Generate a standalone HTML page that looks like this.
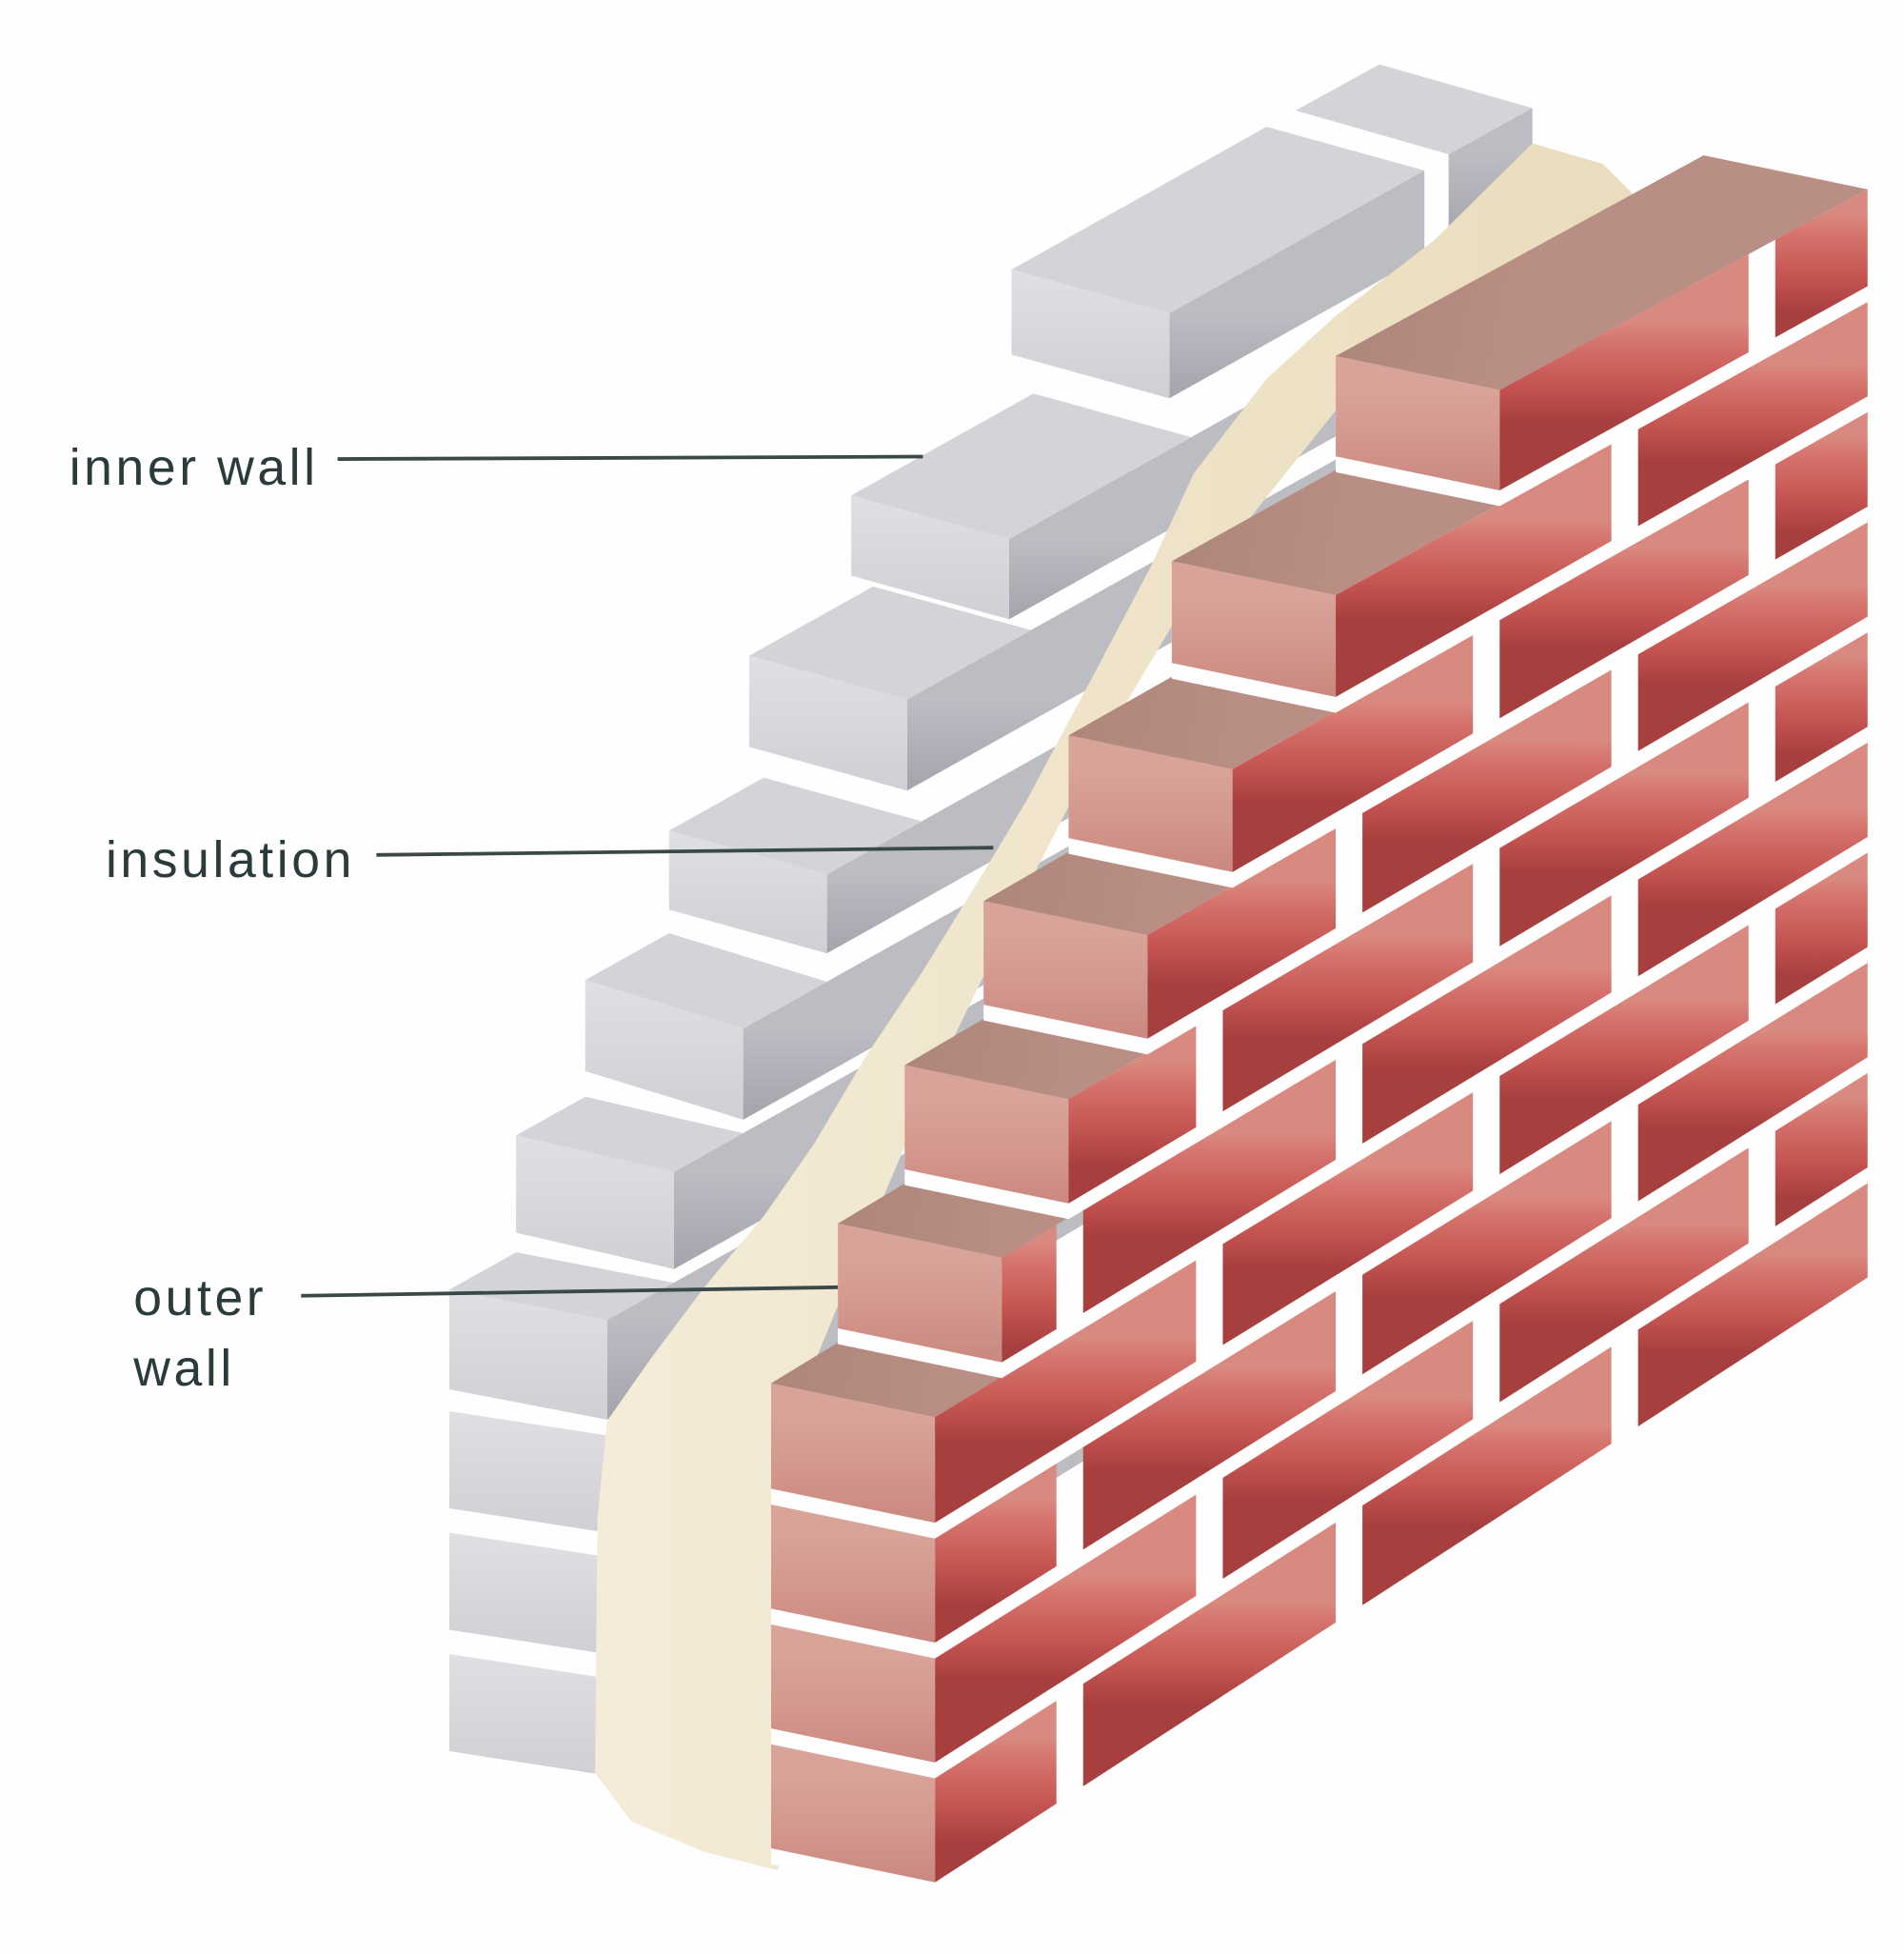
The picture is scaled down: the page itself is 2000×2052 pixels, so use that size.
<!DOCTYPE html>
<html>
<head>
<meta charset="utf-8">
<style>
html,body{margin:0;padding:0;background:#fefefe;}
svg{display:block;}
text{font-family:"Liberation Sans",Arial,sans-serif;fill:#2b3b3b;font-size:42px;letter-spacing:2.8px;}
</style>
</head>
<body>
<svg id="s" xmlns="http://www.w3.org/2000/svg" width="2000" height="2052" viewBox="0 0 1568 1609" preserveAspectRatio="none">
<defs id="defs">
<linearGradient id="ins" x1="0" y1="0" x2="1" y2="0">
<stop offset="0" stop-color="#f4ecd9"/>
<stop offset="0.5" stop-color="#efe4c9"/>
<stop offset="1" stop-color="#eadcbd"/>
</linearGradient>
</defs>
<rect width="1568" height="1609" fill="#fefefe"/>
<g id="grey"></g>
<polygon id="insul" fill="url(#ins)" points="1262,118 1181,198 1100,260 1043,312 983,390 947,468 893,570 845,660 809,720 761,798 713,870 671,941 630,1000 580,1060 535,1120 500,1170 492,1250 490,1460 520,1500 580,1525 640,1540 660,1500 655,1160 710,1027 765,897 830,762 900,625 985,482 1120,313 1200,255 1300,195 1345,160 1320,135"/>
<g id="red"></g>
<g id="labels">
<line x1="278" y1="378" x2="760" y2="376" stroke="#3a4848" stroke-width="3"/>
<line x1="310" y1="704" x2="818" y2="698" stroke="#3a4848" stroke-width="3"/>
<line x1="248" y1="1067" x2="690" y2="1060" stroke="#3a4848" stroke-width="3"/>
<text x="57" y="399">inner wall</text>
<text x="87" y="722">insulation</text>
<text x="110" y="1083">outer</text>
<text x="110" y="1141">wall</text>
</g>
</svg>
<script>
(function(){
var NS='http://www.w3.org/2000/svg';
var defs=document.getElementById('defs');
var G=document.getElementById('grey'), R=document.getElementById('red');
var gid=0;
function poly(g,pts,fill){var p=document.createElementNS(NS,'polygon');p.setAttribute('points',pts.map(function(a){return a[0].toFixed(1)+','+a[1].toFixed(1);}).join(' '));p.setAttribute('fill',fill);g.appendChild(p);return p;}
function grad(x1,y1,x2,y2,stops){var lg=document.createElementNS(NS,'linearGradient');var id='gg'+(gid++);lg.setAttribute('id',id);lg.setAttribute('gradientUnits','userSpaceOnUse');lg.setAttribute('x1',x1);lg.setAttribute('y1',y1);lg.setAttribute('x2',x2);lg.setAttribute('y2',y2);stops.forEach(function(s){var st=document.createElementNS(NS,'stop');st.setAttribute('offset',s[0]);st.setAttribute('stop-color',s[1]);lg.appendChild(st);});defs.appendChild(lg);return 'url(#'+id+')';}

var s=-0.56, W=130;
var gc=[
 {xe:370,y:1362,H:80,r:20,dx:0,L:400},
 {xe:370,y:1262,H:80,r:20,dx:0,L:400},
 {xe:370,y:1162,H:80,r:20,dx:0,L:400},
 {xe:370,y:1062,H:82,r:25,dx:55,L:400},
 {xe:425,y:935,H:80,r:30,dx:57,L:400},
 {xe:482,y:807,H:75,r:40,dx:69,L:400},
 {xe:551,y:684,H:65,r:36,dx:78,L:400},
 {xe:617,y:540,H:75,r:36,dx:102,L:400},
 {xe:701,y:408,H:66,r:36,dx:150,L:400},
 {xe:833,y:222,H:70,r:36,dx:210,L:210}
];
var GL=[[0,'#bcbcc3'],[1,'#a4a4ac']];
gc.forEach(function(c){
 var xf=c.xe+W, yt=c.y+c.r;
 poly(G,[[xf,yt],[xf+c.L,yt+s*c.L],[xf+c.L,yt+c.H+s*c.L],[xf,yt+c.H]],grad(xf,yt,xf,yt+c.H,GL));
 if(c.dx>0){poly(G,[[c.xe,c.y],[xf,yt],[xf+c.dx,yt+s*c.dx],[c.xe+c.dx,c.y+s*c.dx]],'#d3d3d8');}
 poly(G,[[c.xe,c.y],[xf,yt],[xf,yt+c.H],[c.xe,c.y+c.H]],grad(xf,c.y,xf,yt+c.H,[[0,'#e0e0e4'],[1,'#cfcfd4']]));
});
poly(G,[[1067,91],[1193,127],[1262,89],[1136,53]],'#d3d3d8');
poly(G,[[1193,127],[1262,89],[1262,159],[1193,197]],grad(1193,127,1193,197,GL));

function Y(t,x){var yl=1550-98.7*t, yr=1052-90.7*t; return yl+(yr-yl)*(x-770)/768;}
var XR=1538, RW=135, RR=28, TH=0.88;
var xes=[635,635,635,635,690,745,810,880,965,1100];
var jEven=[870,1100,1327], jOdd=[985,1213,1440], JW=22;
var LS=[[0,'#d98a80'],[0.2,'#d5746d'],[0.6,'#c75753'],[1,'#a83f3f']];
for(var k=0;k<10;k++){
 var xe=xes[k], xf=xe+RW;
 var T=function(x){return Y(k+TH,x);}, B=function(x){return Y(k,x);};
 var sh=[[xe,B(xf)-RR],[xf,B(xf)],[XR,B(XR)],[XR,T(XR)],[xf,T(xf)],[xe,T(xf)-RR]];
 poly(R,sh.map(function(p){return [p[0],p[1]+13];}),'#fefefe');
 var dx=(k<9)?(xes[k+1]-xe):(XR-xf);
 if(dx>0){
  poly(R,[[xe,T(xf)-RR],[xf,T(xf)],[xf+dx,T(xf+dx)],[xe+dx,T(xf+dx)-RR]],grad(xe,T(xf)-RR,xf,T(xf),[[0,'#ad867c'],[1,'#b98e84']]));
 }
 poly(R,[[xe,T(xf)-RR],[xf,T(xf)],[xf,B(xf)],[xe,B(xf)-RR]],grad(xf,T(xf),xf,B(xf),[[0,'#d8a399'],[0.5,'#d3978d'],[1,'#ca887f']]));
 var js=(k%2===0)?jEven:jOdd;
 var starts=[xf], ends=[];
 js.forEach(function(j){ if(j>xf+25 && j<XR-10){ends.push(j);starts.push(j+JW);} });
 ends.push(XR);
 for(var i=0;i<starts.length;i++){
  var x1=starts[i], x2=Math.min(ends[i],XR);
  if(x2-x1<4) continue;
  var xm=(x1+x2)/2;
  poly(R,[[x1,T(x1)],[x2,T(x2)],[x2,B(x2)],[x1,B(x1)]],grad(xm,T(xm),xm,B(xm),LS));
 }
}
})();
</script>
</body>
</html>
